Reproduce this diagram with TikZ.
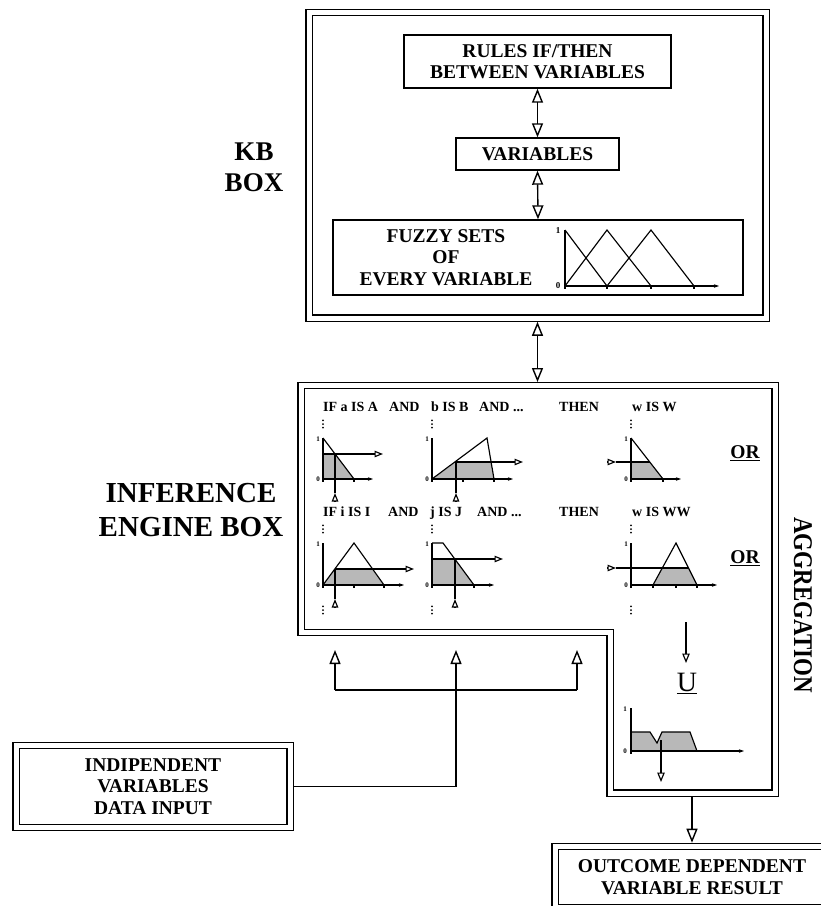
\documentclass[tikz,border=0pt]{standalone}
\usepackage{fontspec}
\usepackage{graphicx}
\setmainfont{Liberation Serif}
\usetikzlibrary{arrows.meta}
\begin{document}
\begin{tikzpicture}[x=1pt,y=-1pt,
  every node/.style={font=\bfseries},
  bx/.style={draw, line width=1.4pt, inner sep=0pt, outer sep=0.7pt},
  dbl/.style={draw, line width=1.3pt, double, double distance=5pt, inner sep=0pt, outer sep=3.8pt},
  bigopen/.style={line width=1.4pt, -{Triangle[open,width=11pt,length=14pt]}},
  both/.style={line width=1.4pt, {Triangle[open,width=11pt,length=14pt]}-{Triangle[open,width=11pt,length=14pt]}},
  cl/.style={line width=1.15pt},
  smallopen/.style={line width=1.15pt, -{Triangle[open,width=6.5pt,length=8.5pt]}},
  axisarr/.style={line width=1.15pt, -{Stealth[width=3.5pt,length=5pt]}},
  shade/.style={fill=black!28},
  boxfont/.style={font=\fontsize{19.5}{21.5}\selectfont\bfseries},
  rowtxt/.style={font=\fontsize{14}{16}\selectfont\bfseries, anchor=base west, inner sep=0pt},
  tinylab/.style={font=\fontsize{7}{8}\selectfont\bfseries, inner sep=0pt},
  vd/.pic={\fill (0pt,-3.6pt) circle (1pt); \fill (0pt,0pt) circle (1pt); \fill (0pt,3.6pt) circle (1pt);}
]
\clip (0,0) rectangle (821,906);

% ---------------- KB box ----------------
\node[dbl, minimum width=457pt, minimum height=305.5pt] (kb) at (537.5,165.25) {};
\node[bx, boxfont, align=center, minimum width=267pt, minimum height=53pt] (rules) at (537.5,61.5) {RULES IF/THEN\\BETWEEN VARIABLES};
\node[bx, boxfont, minimum width=163pt, minimum height=32pt] (vars) at (537.5,154) {VARIABLES};
\node[bx, minimum width=410pt, minimum height=75pt] (fuzzy) at (538,257.5) {};
\node[boxfont, align=center] (fztext) at (446,257.5) {FUZZY SETS\\OF\\EVERY VARIABLE};
\draw[both] (rules.south) -- (vars.north);
\draw[both] (vars.south) -- (fuzzy.north);
% fuzzy sets chart
\draw[cl] (565,230) -- (565,289);
\draw[axisarr] (565,286) -- (719,286);
\draw[cl] (565,230) -- (607,286);
\draw[cl] (565,286) -- (607,230) -- (651,286);
\draw[cl] (607,286) -- (651,230) -- (694,286);
\foreach \t in {607,651,694} \draw[cl] (\t,286) -- (\t,289);
\node[tinylab, font=\fontsize{9}{10}\selectfont\bfseries] at (558,231) {1};
\node[tinylab, font=\fontsize{9}{10}\selectfont\bfseries] at (558,286) {0};

\node[font=\fontsize{27}{31}\selectfont\bfseries, align=center] (kblab) at (254,167) {KB\\BOX};

% ---------------- Inference engine box ----------------
\coordinate (inftop) at (537.5,382);
\draw[both] (kb.south) -- (inftop);
\draw[line width=1.3pt, double, double distance=5pt, line join=miter]
  (301,385.5) -- (775,385.5) -- (775,793) -- (610,793) -- (610,632.5) -- (301,632.5) -- cycle;
\node[font=\fontsize{29}{34}\selectfont\bfseries, align=center] (inflab) at (191,510) {INFERENCE\\ENGINE BOX};

% rule texts
\node[rowtxt] at (323,411) {IF a IS A};
\node[rowtxt] at (389,411) {AND};
\node[rowtxt] at (431,411) {b IS B};
\node[rowtxt] at (479,411) {AND ...};
\node[rowtxt] at (559,411) {THEN};
\node[rowtxt] at (632,411) {w IS W};
\node[rowtxt] at (323,516) {IF i IS I};
\node[rowtxt] at (388,516) {AND};
\node[rowtxt] at (430,516) {j IS J};
\node[rowtxt] at (477,516) {AND ...};
\node[rowtxt] at (559,516) {THEN};
\node[rowtxt] at (632,516) {w IS WW};

\foreach \x in {323,432,631} {
  \pic at (\x,424) {vd};
  \pic at (\x,529) {vd};
  \pic at (\x,610) {vd};
}

% row 1 chart 1
\fill[shade] (323,479) -- (323,454) -- (335,454) -- (354,479) -- cycle;
\draw[cl] (323,438) -- (354,479);
\draw[cl] (323,438) -- (323,482);
\draw[axisarr] (323,479) -- (373,479);
\draw[cl] (354,479) -- (354,482);
\draw[smallopen] (323,454) -- (383,454);
\draw[smallopen] (335,502) -- (335,493);
\draw[cl] (335,493) -- (335,454);
\node[tinylab] at (318,439) {1};
\node[tinylab] at (318,479) {0};

% row 1 chart 2
\fill[shade] (432,479) -- (456,462) -- (491,462) -- (494,479) -- cycle;
\draw[cl] (432,479) -- (487,438) -- (494,479);
\draw[cl] (432,438) -- (432,482);
\draw[axisarr] (432,479) -- (513,479);
\draw[cl] (463,479) -- (463,482);
\draw[cl] (494,479) -- (494,482);
\draw[smallopen] (456,462) -- (523,462);
\draw[smallopen] (456,502) -- (456,493);
\draw[cl] (456,493) -- (456,462);
\node[tinylab] at (427,439) {1};
\node[tinylab] at (427,479) {0};

% row 1 chart 3
\fill[shade] (631,479) -- (631,462) -- (650,462) -- (663,479) -- cycle;
\draw[cl] (631,438) -- (663,479);
\draw[cl] (631,438) -- (631,482);
\draw[axisarr] (631,479) -- (681,479);
\draw[cl] (663,479) -- (663,482);
\draw[smallopen] (607,462) -- (616,462);
\draw[cl] (616,462) -- (650,462);
\node[tinylab] at (626,439) {1};
\node[tinylab] at (626,479) {0};

% row 2 chart 1
\fill[shade] (323,585) -- (335,569) -- (372,569) -- (384,585) -- cycle;
\draw[cl] (323,585) -- (354,543) -- (384,585);
\draw[cl] (323,543) -- (323,588);
\draw[axisarr] (323,585) -- (404,585);
\draw[cl] (354,585) -- (354,588);
\draw[cl] (384,585) -- (384,588);
\draw[smallopen] (335,569) -- (414,569);
\draw[smallopen] (335,608) -- (335,599);
\draw[cl] (335,599) -- (335,569);
\node[tinylab] at (318,544) {1};
\node[tinylab] at (318,585) {0};

% row 2 chart 2
\fill[shade] (432,585) -- (432,559) -- (455,559) -- (474,585) -- cycle;
\draw[cl] (432,543) -- (443,543) -- (474,585);
\draw[cl] (432,543) -- (432,588);
\draw[axisarr] (432,585) -- (494,585);
\draw[cl] (474,585) -- (474,588);
\draw[smallopen] (432,559) -- (503,559);
\draw[smallopen] (455,608) -- (455,599);
\draw[cl] (455,599) -- (455,559);
\node[tinylab] at (427,544) {1};
\node[tinylab] at (427,585) {0};

% row 2 chart 3
\fill[shade] (653,585) -- (662,568) -- (688.5,568) -- (697,585) -- cycle;
\draw[cl] (653,585) -- (676,543) -- (697,585);
\draw[cl] (631,543) -- (631,588);
\draw[axisarr] (631,585) -- (717,585);
\foreach \t in {653,676,697} \draw[cl] (\t,585) -- (\t,588);
\draw[smallopen] (607,568) -- (616,568);
\draw[cl] (616,568) -- (688.5,568);
\node[tinylab] at (626,544) {1};
\node[tinylab] at (626,585) {0};

% OR labels
\node[font=\fontsize{19.5}{22}\selectfont\bfseries] (or1) at (745,453) {\underline{OR}};
\node[font=\fontsize{19.5}{22}\selectfont\bfseries] (or2) at (745,558) {\underline{OR}};

% aggregation
\coordinate (ag1) at (686,622);
\coordinate (ag2) at (686,663);
\draw[line width=1.15pt, -{Triangle[open,width=7.5pt,length=9.5pt]}] (ag1) -- (ag2);
\node[font=\fontsize{28}{30}\selectfont\mdseries] (U) at (687,683) {\underline{U}};
\fill[shade] (631,751) -- (631,732) -- (650,732) -- (657,743) -- (662,732) -- (690,732) -- (697,751) -- cycle;
\draw[cl] (631,732) -- (650,732) -- (657,743) -- (662,732) -- (690,732) -- (697,751);
\draw[cl] (631,708) -- (631,754);
\draw[axisarr] (631,751) -- (744,751);
\draw[line width=1.15pt, -{Triangle[open,width=7.5pt,length=9.5pt]}] (661,740) -- (661,782);
\node[tinylab] at (625,709) {1};
\node[tinylab] at (625,751) {0};

\node[rotate=-90, font=\fontsize{27}{30}\selectfont\bfseries] (agglab) at (803,605) {\scalebox{0.85}[1]{AGGREGATION}};

% ---------------- inputs ----------------
\node[dbl, boxfont, align=center, minimum width=274pt, minimum height=82pt] (indip) at (153,786.5) {INDIPENDENT\\VARIABLES\\DATA INPUT};
\coordinate (in1) at (335,650);
\coordinate (in2) at (456,650);
\coordinate (in3) at (577,650);
\coordinate (j1) at (335,690);
\coordinate (j3) at (577,690);
\draw[bigopen] (indip.east) -| (in2);
\draw[line width=1.4pt] (j1) -- (j3);
\draw[bigopen] (j1) -- (in1);
\draw[bigopen] (j3) -- (in3);

% ---------------- output ----------------
\coordinate (infout) at (692,797);
\node[dbl, boxfont, align=center, minimum width=274pt, minimum height=61pt] (outcome) at (692,877) {OUTCOME DEPENDENT\\VARIABLE RESULT};
\draw[bigopen] (infout) -- (outcome.north);
\end{tikzpicture}
\end{document}
